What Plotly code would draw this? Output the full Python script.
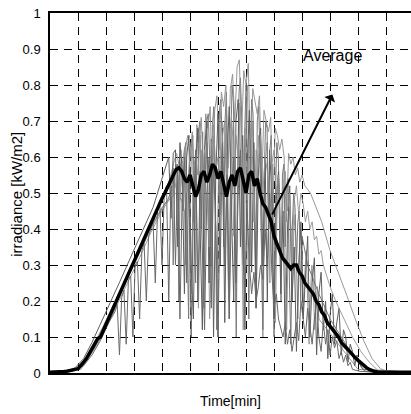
import plotly.graph_objects as go

# ---------------- data (minutes, kW/m2) ----------------
avg_step = 10
avg_vals = [0.002,0.002,0.002,0.003,0.003,0.004,0.005,0.006,0.008,0.01,
            0.012,0.02,0.03,0.04,0.055,0.07,0.085,0.095,
            0.1,0.118,0.135,0.152,0.17,0.187,0.205,0.222,0.24,0.257,0.275,0.292,0.31,0.327,0.345,0.362,0.38,0.397,0.415,0.432,0.45,0.467,0.485,0.5,0.515,
            0.535,0.55,0.565,0.57,0.56,0.54,0.53,0.55,0.52,0.49,0.51,0.55,0.56,0.53,0.55,0.58,0.57,0.54,0.56,0.52,0.49,0.53,0.55,0.52,0.56,0.57,0.53,0.5,0.55,0.56,0.52,0.54,0.5,
            0.47,0.46,0.44,0.42,0.38,0.36,0.34,0.32,0.31,0.3,0.29,0.3,0.3,0.28,0.27,0.25,0.24,0.23,0.22,0.2,0.19,0.17,0.16,0.14,0.13,0.12,0.11,0.1,0.085,0.075,0.068,0.06,0.05,0.042,0.035,0.028,0.02,0.015,0.01,0.006,0.004,0.003,0.002,
            0.002,0.002,0.002,0.002,0.002,0.002,0.002,0.002,0.002,0.002,0.002]

# day 1
day1_morning_t = [0,60,100,130,160,190,220,260,300,340,380,420]
day1_morning_v = [0.002,0.004,0.015,0.045,0.085,0.13,0.18,0.245,0.315,0.385,0.45,0.52]
day1_noisy_start, day1_noisy_step = 428, 8
day1_noisy_v = [0.54,0.57,0.59,0.61,0.58,0.62,0.45,0.63,0.66,0.6,0.67,0.38,0.69,0.64,0.71,0.55,0.72,0.68,0.74,0.5,
                0.73,0.77,0.62,0.78,0.74,0.8,0.57,0.79,0.83,0.7,0.85,0.87,0.66,0.84,0.8,0.86,0.6,0.79,0.76,0.72,
                0.77,0.52,0.73,0.7,0.67,0.71,0.45,0.68,0.66,0.62,0.65,0.6,0.42,0.61,0.58,0.6,0.55,0.57,0.53,0.55]
day1_evening_t = [910,930,950,970,1000,1030,1060,1090,1120,1150,1180,1210,1290]
day1_evening_v = [0.52,0.5,0.46,0.42,0.34,0.28,0.215,0.15,0.09,0.04,0.012,0.003,0.002]

# day 2
day2_morning_t = [0,60,90,120,150,180,210,250,290,330,360]
day2_morning_v = [0.002,0.005,0.015,0.04,0.085,0.135,0.185,0.255,0.325,0.395,0.445]
day2_noisy_start, day2_noisy_step = 368, 8
day2_noisy_v = [0.46,0.48,0.5,0.52,0.54,0.56,0.58,0.6,0.43,0.61,0.62,0.35,0.64,0.56,0.22,0.6,0.66,0.3,0.15,0.58,
                0.68,0.4,0.12,0.62,0.7,0.25,0.65,0.1,0.55,0.72,0.3,0.68,0.14,0.6,0.74,0.45,0.2,0.7,0.76,0.35,
                0.66,0.12,0.58,0.73,0.28,0.64,0.18,0.55,0.68,0.3,0.6,0.2,0.62,0.5,0.15,0.48,0.56,0.22,0.45,0.08,
                0.4,0.52,0.2,0.35,0.06,0.3,0.42,0.15,0.28,0.38,0.1,0.25,0.32,0.05,0.22,0.28,0.12,0.2,0.04,0.16,
                0.22,0.08,0.14,0.18,0.05,0.12,0.1,0.03,0.08,0.06,0.02,0.05,0.03,0.015,0.008,0.004]
day2_evening_t = [1160,1290]
day2_evening_v = [0.002,0.002]

# day 3
day3_morning_t = [0,80,110,140,170,200,240,280,320,360,400,440]
day3_morning_v = [0.002,0.006,0.02,0.045,0.08,0.125,0.19,0.255,0.32,0.39,0.45,0.5]
day3_noisy_start, day3_noisy_step = 448, 8
day3_noisy_v = [0.52,0.55,0.48,0.58,0.62,0.5,0.57,0.64,0.42,0.6,0.55,0.66,0.48,0.62,0.58,0.35,0.63,0.69,0.56,0.6,
                0.44,0.66,0.7,0.52,0.64,0.72,0.38,0.66,0.6,0.74,0.55,0.68,0.48,0.64,0.7,0.42,0.62,0.58,0.66,0.5,
                0.6,0.56,0.4,0.58,0.62,0.5,0.55,0.35,0.52,0.56,0.45,0.5,0.3,0.48,0.52,0.44,0.5,0.47,0.42,0.45,
                0.4,0.42,0.37,0.38,0.33,0.34,0.3,0.28,0.26,0.24]
day3_evening_t = [1020,1050,1080,1110,1140,1170,1290]
day3_evening_v = [0.2,0.15,0.1,0.06,0.03,0.008,0.002]

# day 4
day4_morning_t = [0,80,120,150,180,210,232]
day4_morning_v = [0.002,0.005,0.02,0.05,0.09,0.14,0.17]
day4_noisy_start, day4_noisy_step = 240, 8
day4_noisy_v = [0.19,0.05,0.21,0.23,0.08,0.26,0.27,0.1,0.3,0.31,0.15,0.34,0.36,0.2,0.38,0.4,0.42,0.25,0.45,0.47,
                0.3,0.5,0.52,0.2,0.54,0.57,0.3,0.58,0.15,0.5,0.6,0.25,0.55,0.1,0.45,0.62,0.2,0.56,0.35,0.12,
                0.5,0.6,0.18,0.58,0.4,0.1,0.52,0.64,0.3,0.55,0.15,0.48,0.6,0.25,0.5,0.62,0.35,0.2,0.45,0.3,
                0.22,0.28,0.2,0.24,0.3,0.26,0.4,0.3,0.5,0.28,0.18,0.22,0.15,0.12,0.1,0.14,0.08,0.12,0.06,0.1,
                0.14,0.09,0.2,0.15,0.1,0.18,0.12,0.08,0.15,0.2,0.1,0.06,0.14,0.08,0.12,0.05,0.1,0.07,0.09,0.04,
                0.06,0.03,0.05,0.02,0.03,0.01]
day4_evening_t = [1110,1290]
day4_evening_v = [0.004,0.002]

# day 5
day5_morning_t = [0,100,150,200,250,300,350,400,420]
day5_morning_v = [0.002,0.01,0.06,0.14,0.225,0.31,0.39,0.46,0.48]
day5_noisy_start, day5_noisy_step = 430, 5
day5_noisy_v = [0.5,0.52,0.3,0.55,0.58,0.56,0.2,0.57,0.6,0.45,0.62,0.64,0.35,0.15,0.6,0.63,0.66,0.5,0.25,0.64,
                0.68,0.7,0.4,0.67,0.18,0.55,0.7,0.72,0.6,0.3,0.69,0.74,0.5,0.12,0.45,0.73,0.76,0.65,0.35,0.7,
                0.78,0.55,0.2,0.6,0.8,0.75,0.4,0.1,0.5,0.78,0.82,0.7,0.3,0.66,0.8,0.45,0.15,0.58,0.76,0.72,
                0.5,0.25,0.7,0.74,0.6,0.35,0.12,0.55,0.7,0.68,0.4,0.62,0.66,0.3,0.1,0.5,0.64,0.6,0.45,0.2,
                0.55,0.58,0.35,0.5,0.54,0.25,0.08,0.4,0.5,0.46,0.3,0.42,0.45,0.2,0.38]
day5_evening_t = [920,960,1000,1040,1080,1120,1290]
day5_evening_v = [0.3,0.22,0.15,0.1,0.05,0.01,0.002]

# day 6
day6_morning_t = [0,110,160,210,260,310,360,410,450,470]
day6_morning_v = [0.002,0.01,0.07,0.15,0.235,0.32,0.4,0.47,0.5,0.48]
day6_noisy_start, day6_noisy_step = 480, 5
day6_noisy_v = [0.45,0.3,0.5,0.55,0.4,0.22,0.48,0.58,0.6,0.35,0.18,0.4,0.62,0.5,0.28,0.56,0.64,0.45,0.15,0.3,
                0.6,0.66,0.52,0.25,0.1,0.45,0.68,0.7,0.4,0.55,0.72,0.3,0.15,0.5,0.65,0.7,0.48,0.2,0.6,0.75,
                0.62,0.35,0.12,0.4,0.7,0.8,0.55,0.3,0.62,0.7,0.4,0.18,0.52,0.66,0.6,0.3,0.1,0.38,0.6,0.64,
                0.45,0.25,0.5,0.58,0.35,0.14,0.42,0.55,0.5,0.28,0.48,0.52,0.3,0.12,0.35,0.46,0.4,0.2,0.38,0.44,
                0.3,0.15,0.32,0.4,0.35,0.18,0.28,0.34,0.2,0.08,0.22,0.3,0.25,0.12,0.2,0.24,0.15]
day6_evening_t = [990,1030,1070,1100,1290]
day6_evening_v = [0.12,0.08,0.04,0.01,0.002]

y_ticks = [0,0.1,0.2,0.3,0.4,0.5,0.6,0.7,0.8,0.9,1]
y_tick_text = ["0","0.1","0.2","0.3","0.4","0.5","0.6","0.7","0.8","0.9","1"]

# ---------------- build ----------------
def series(mt, mv, start, step, nv, et, ev):
    t = list(mt) + [start + step * i for i in range(len(nv))] + list(et)
    v = list(mv) + list(nv) + list(ev)
    return t, v

days = [
    (series(day6_morning_t, day6_morning_v, day6_noisy_start, day6_noisy_step, day6_noisy_v, day6_evening_t, day6_evening_v), "#999999", 1),
    (series(day5_morning_t, day5_morning_v, day5_noisy_start, day5_noisy_step, day5_noisy_v, day5_evening_t, day5_evening_v), "#7a7a7a", 1),
    (series(day1_morning_t, day1_morning_v, day1_noisy_start, day1_noisy_step, day1_noisy_v, day1_evening_t, day1_evening_v), "#8c8c8c", 0.9),
    (series(day2_morning_t, day2_morning_v, day2_noisy_start, day2_noisy_step, day2_noisy_v, day2_evening_t, day2_evening_v), "#5e5e5e", 1),
    (series(day3_morning_t, day3_morning_v, day3_noisy_start, day3_noisy_step, day3_noisy_v, day3_evening_t, day3_evening_v), "#929292", 0.9),
    (series(day4_morning_t, day4_morning_v, day4_noisy_start, day4_noisy_step, day4_noisy_v, day4_evening_t, day4_evening_v), "#6a6a6a", 1),
]

fig = go.Figure()
for (t, v), col, w in days:
    fig.add_trace(go.Scatter(x=t, y=v, mode="lines", line=dict(color=col, width=w), showlegend=False))

avg_t = [avg_step * i for i in range(len(avg_vals))]
fig.add_trace(go.Scatter(x=avg_t, y=avg_vals, mode="lines", line=dict(color="black", width=3.5), showlegend=False))

font_main = "Liberation Sans, Arial, sans-serif"

fig.update_layout(
    width=411, height=414,
    margin=dict(l=50, r=0, t=13, b=41),
    paper_bgcolor="white", plot_bgcolor="white",
    font=dict(family=font_main, color="black"),
    xaxis=dict(range=[0, 1289], tick0=0, dtick=100, showticklabels=False, ticks="",
               showgrid=True, gridcolor="black", gridwidth=1, griddash="8px,6px",
               showline=True, linecolor="black", linewidth=2, mirror=True, zeroline=False,
               title=dict(text="Time[min]", font=dict(size=14, family=font_main), standoff=22)),
    yaxis=dict(range=[0, 1], tickvals=y_ticks, ticktext=y_tick_text, ticks="",
               tickfont=dict(size=13, family=font_main), ticklabelstandoff=5,
               showgrid=True, gridcolor="black", gridwidth=1, griddash="8px,6px",
               showline=True, linecolor="black", linewidth=1.5, zeroline=False),
    annotations=[
        dict(text="irradiance [kW/m2]", xref="paper", yref="paper", x=-0.095, y=0.497,
             textangle=-90, showarrow=False, font=dict(size=15, family=font_main), xanchor="center", yanchor="middle"),
        dict(text="Average", xref="x", yref="y", x=1007, y=0.883, showarrow=False,
             font=dict(size=16, family=font_main), xanchor="center", yanchor="middle"),
        dict(text="", xref="x", yref="y", x=793, y=0.44, axref="x", ayref="y", ax=1011, ay=0.778,
             showarrow=True, arrowhead=2, arrowside="start", arrowwidth=2, arrowsize=1, arrowcolor="black"),
    ],
)

fig.write_html("out.html")
